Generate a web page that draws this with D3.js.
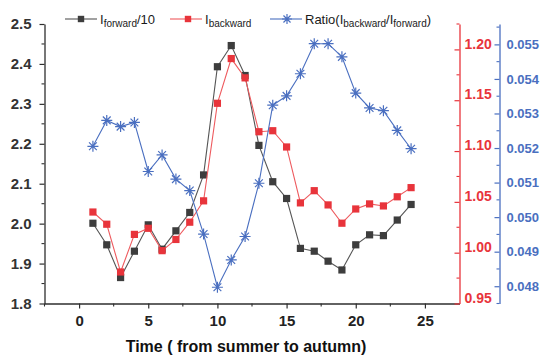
<!DOCTYPE html>
<html>
<head>
<meta charset="utf-8">
<script src="https://cdn.jsdelivr.net/npm/d3@7"></script>
<style>
  html, body { margin: 0; padding: 0; background: #fff; }
  svg { display: block; font-family: "Liberation Sans", Arial, sans-serif; }
</style>
</head>
<body>
<svg id="chart" width="545" height="359"></svg>
<script>
// Sample index (time from summer to autumn)
const time = [1,2,3,4,5,6,7,8,9,10,11,12,13,14,15,16,17,18,19,20,21,22,23,24];
// I_forward / 10  (left axis)
const forward10 = [2.001,1.947,1.865,1.931,1.997,1.936,1.982,2.028,2.122,2.393,2.446,2.371,
                   2.196,2.105,2.063,1.938,1.931,1.906,1.884,1.947,1.972,1.970,2.009,2.048];
// I_backward (red axis)
const backward = [1.040,1.028,0.981,1.018,1.024,1.002,1.013,1.030,1.051,1.147,1.191,1.172,
                  1.119,1.120,1.104,1.049,1.061,1.047,1.029,1.043,1.048,1.046,1.055,1.064];
// Ratio I_backward / I_forward (blue axis)
const ratio = [0.05205,0.05280,0.05262,0.05274,0.05132,0.05180,0.05110,0.05077,0.04951,0.04797,
               0.04876,0.04944,0.05098,0.05324,0.05351,0.05415,0.05502,0.05502,0.05464,0.05359,
               0.05316,0.05308,0.05251,0.05198];

const xTicks = [0,5,10,15,20,25];
const leftTicks = [1.8,1.9,2.0,2.1,2.2,2.3,2.4,2.5];
const redTicks = [0.95,1.00,1.05,1.10,1.15,1.20];
const blueTicks = [0.048,0.049,0.050,0.051,0.052,0.053,0.054,0.055];

const cDark = "#3d3d3d", cDarkLine = "#555555";
const cRed = "#e8343b", cRedLine = "#ee5a5e";
const cBlue = "#4a6fc0";

const svg = d3.select("#chart");
const L = 44.5, R = 459.5, T = 24, B = 303.5;
const redX = 459.5, blueX = 499.5;

const x = d3.scaleLinear().domain([-2.5, 27.5]).range([L, R]);
const yL = d3.scaleLinear().domain([1.8, 2.5]).range([B, T]);
const yR = d3.scaleLinear().domain([0.95, 1.225]).range([B, T]);
const yB = d3.scaleLinear().domain([0.0475, 0.05559]).range([B, T]);

// ---------- axes ----------
const fmt1 = d3.format(".1f"), fmt2 = d3.format(".2f"), fmt3 = d3.format(".3f");

function styleAxis(g, color, fontSize) {
  g.select(".domain").attr("stroke", color).attr("stroke-width", 1.3);
  g.selectAll(".tick line").attr("stroke", color).attr("stroke-width", 1.2);
  g.selectAll(".tick text").attr("fill", color).attr("font-weight", "bold")
    .attr("font-size", fontSize).attr("font-family", "Liberation Sans, Arial, sans-serif");
}

// minor ticks
function minor(g, scale, vals, orient, len, color) {
  g.selectAll(null).data(vals).enter().append("line")
    .attr("stroke", color).attr("stroke-width", 1.1)
    .each(function(d) {
      const s = d3.select(this);
      if (orient === "bottom") s.attr("x1", scale(d)).attr("x2", scale(d)).attr("y1", 0).attr("y2", len);
      else s.attr("y1", scale(d)).attr("y2", scale(d)).attr("x1", 0).attr("x2", len);
    });
}

// bottom
const gx = svg.append("g").attr("transform", `translate(0,${B})`)
  .call(d3.axisBottom(x).tickValues(xTicks).tickSize(5).tickPadding(7).tickSizeOuter(0).tickFormat(d3.format("d")));
styleAxis(gx, "#2e2e2e", "15px");
gx.selectAll(".tick text").attr("fill", "#222");
minor(gx, x, [-2.5,2.5,7.5,12.5,17.5,22.5], "bottom", 3, "#2e2e2e");

// left
const gl = svg.append("g").attr("transform", `translate(${L},0)`)
  .call(d3.axisLeft(yL).tickValues(leftTicks).tickSize(5).tickPadding(8).tickSizeOuter(0).tickFormat(fmt1));
styleAxis(gl, "#2e2e2e", "15px");
gl.selectAll(".tick text").attr("fill", "#333");
minor(gl, yL, [1.85,1.95,2.05,2.15,2.25,2.35,2.45], "left", -3, "#2e2e2e");

// red right axis: ticks point inward, labels outside
const gr = svg.append("g").attr("transform", `translate(${redX},0)`)
  .call(d3.axisRight(yR).tickValues(redTicks).tickSize(-5).tickPadding(4).tickSizeOuter(0).tickFormat(fmt2));
styleAxis(gr, cRed, "14px");
gr.selectAll(".tick text").attr("x", 5).attr("dy", "-0.1em");
minor(gr, yR, [0.975,1.025,1.075,1.125,1.175,1.225], "left", -3, cRed);

// blue right axis
const gb = svg.append("g").attr("transform", `translate(${blueX},0)`)
  .call(d3.axisRight(yB).tickValues(blueTicks).tickSize(-5).tickPadding(4).tickSizeOuter(0).tickFormat(fmt3));
styleAxis(gb, cBlue, "13px");
gb.selectAll(".tick text").attr("x", 7);
minor(gb, yB, [0.0475,0.0485,0.0495,0.0505,0.0515,0.0525,0.0535,0.0545,0.0555], "left", -3, cBlue);

// axis title
svg.append("text").attr("x", 246).attr("y", 352).attr("text-anchor", "middle")
  .attr("font-size", "16px").attr("font-weight", "bold").attr("fill", "#111")
  .text("Time ( from summer to autumn)");

// ---------- series ----------
const plot = svg.append("g");

function squareSeries(vals, yScale, lineColor, markColor) {
  const line = d3.line().x((d, i) => x(time[i])).y(d => yScale(d));
  plot.append("path").datum(vals).attr("d", line)
    .attr("fill", "none").attr("stroke", lineColor).attr("stroke-width", 1.1);
  plot.selectAll(null).data(vals).enter().append("rect")
    .attr("x", (d, i) => x(time[i]) - 3.6).attr("y", d => yScale(d) - 3.6)
    .attr("width", 7.2).attr("height", 7.2).attr("fill", markColor);
}

function starMarker(g, cx, cy, r, color) {
  const d = r * Math.SQRT1_2;
  const path = `M${cx - r},${cy}L${cx + r},${cy}M${cx},${cy - r}L${cx},${cy + r}` +
               `M${cx - d},${cy - d}L${cx + d},${cy + d}M${cx - d},${cy + d}L${cx + d},${cy - d}`;
  g.append("path").attr("d", path).attr("stroke", color).attr("stroke-width", 1.2).attr("fill", "none");
}

squareSeries(forward10, yL, cDarkLine, cDark);
squareSeries(backward, yR, cRedLine, cRed);

const ratioLine = d3.line().x((d, i) => x(time[i])).y(d => yB(d));
plot.append("path").datum(ratio).attr("d", ratioLine)
  .attr("fill", "none").attr("stroke", cBlue).attr("stroke-width", 1.1);
ratio.forEach((v, i) => starMarker(plot, x(time[i]), yB(v), 5.5, cBlue));

// ---------- legend ----------
const lg = svg.append("g").attr("font-size", "13px").attr("fill", "#1a1a1a");
const legendY = 19;

function legendLine(x0, x1, color) {
  lg.append("line").attr("x1", x0).attr("x2", x1).attr("y1", legendY).attr("y2", legendY)
    .attr("stroke", color).attr("stroke-width", 1.1);
}

legendLine(65, 97, cDarkLine);
lg.append("rect").attr("x", 81 - 3.2).attr("y", legendY - 3.2).attr("width", 6.4).attr("height", 6.4).attr("fill", cDark);
const t1 = lg.append("text").attr("x", 100).attr("y", legendY + 5);
t1.append("tspan").text("I");
t1.append("tspan").attr("font-size", "10px").attr("dy", 3).text("forward");
t1.append("tspan").attr("dy", -3).text("/10");

legendLine(170, 202, cRedLine);
lg.append("rect").attr("x", 188 - 3.2).attr("y", legendY - 3.2).attr("width", 6.4).attr("height", 6.4).attr("fill", cRed);
const t2 = lg.append("text").attr("x", 205).attr("y", legendY + 5);
t2.append("tspan").text("I");
t2.append("tspan").attr("font-size", "10px").attr("dy", 3).text("backward");

legendLine(270, 302, cBlue);
starMarker(lg, 287, legendY, 5, cBlue);
const t3 = lg.append("text").attr("x", 305).attr("y", legendY + 5);
t3.append("tspan").text("Ratio(I");
t3.append("tspan").attr("font-size", "10px").attr("dy", 3).text("backward");
t3.append("tspan").attr("dy", -3).text("/I");
t3.append("tspan").attr("font-size", "10px").attr("dy", 3).text("forward");
t3.append("tspan").attr("dy", -3).text(")");
</script>
</body>
</html>
